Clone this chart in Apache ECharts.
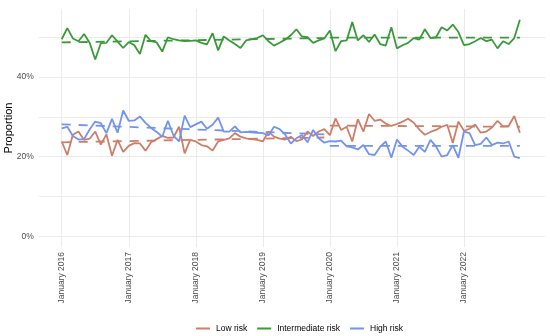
<!DOCTYPE html>
<html>
<head>
<meta charset="utf-8">
<script src="https://cdn.jsdelivr.net/npm/echarts@6/dist/echarts.min.js"></script>
<style>html,body{margin:0;padding:0;background:#fff;}#c{width:550px;height:336px;}</style>
</head>
<body>
<div id="c"></div>
<script>
// Monthly proportions (%), January 2016 .. November 2022 (index 0..82)
const lowRisk = [23.8,20.4,25.5,26.3,24.2,24.5,26.3,23.0,25.6,20.2,24.2,21.2,22.7,23.4,23.3,21.5,23.6,24.4,25.2,24.7,
  24.8,27.5,20.8,24.2,23.8,22.9,22.6,21.5,23.8,24.2,24.6,25.9,25.0,24.6,24.4,24.2,23.8,26.3,25.0,24.5,
  24.3,25.0,23.9,24.3,26.3,25.2,26.3,26.9,25.4,29.6,26.7,27.5,23.8,29.4,26.3,30.7,29.0,29.3,28.3,27.7,
  28.2,28.8,29.5,28.5,26.8,25.5,26.2,26.7,27.5,28.0,23.4,28.8,26.5,27.0,28.1,26.0,26.3,27.3,29.0,27.6,
  27.7,30.2,26.0];
const intermediateRisk = [49.5,52.3,49.7,49.0,50.8,48.6,44.4,48.5,48.6,50.5,48.9,47.3,48.8,48.0,45.8,50.6,49.0,48.7,46.4,50.0,
  49.5,49.2,49.0,49.1,49.2,48.6,48.2,51.0,46.7,50.2,49.2,48.3,47.3,49.2,49.5,49.8,50.5,49.0,47.9,48.6,
  49.4,50.5,52.0,50.2,50.0,48.6,49.2,49.7,51.7,46.5,49.0,49.2,53.8,49.2,50.5,48.8,50.7,48.3,47.9,52.5,
  47.2,48.0,48.6,49.8,49.4,52.0,49.8,50.0,52.5,51.7,53.2,51.3,48.0,48.3,49.0,49.8,49.0,49.4,47.2,49.0,
  48.3,49.8,54.4];
const highRisk = [27.1,27.5,25.2,24.3,24.4,26.8,28.8,28.4,25.9,29.5,26.0,31.6,29.0,29.1,30.1,28.5,27.2,26.2,25.0,29.0,
  25.3,23.8,30.3,27.4,28.1,28.8,27.0,28.0,29.8,26.3,26.3,27.6,26.1,26.2,26.1,26.0,25.9,25.3,27.5,26.9,
  25.5,23.3,24.6,25.4,23.6,26.7,24.6,23.5,23.9,23.8,24.0,22.6,22.3,21.8,22.9,20.6,20.4,22.5,23.8,19.7,
  24.3,22.5,21.5,20.4,22.5,21.2,24.2,22.5,20.0,20.4,22.9,19.7,26.3,25.9,22.9,23.2,24.8,22.9,23.5,23.3,
  23.8,20.0,19.6];

// Segmented trend lines (dashed): pre-2020 and post-2020, values at segment ends
const trendX = [0, 47, 48, 82];
const lowTrend = [23.6, 24.8, 27.8, 27.5];
const intermediateTrend = [48.7, 49.8, 49.9, 49.9];
const highTrend = [28.1, 25.6, 22.7, 22.7];

// Axis ticks
const xTickPos = [0, 12, 24, 36, 48, 60, 72];
const xTickLabels = ['January 2016','January 2017','January 2018','January 2019','January 2020','January 2021','January 2022'];
const yGridValues = [0, 10, 20, 30, 40, 50];
const yLabelValues = [0, 20, 40];

const names = ['Low risk', 'Intermediate risk', 'High risk'];
const colors = ['#cd7e68', '#3a9a3a', '#7393ee'];
const mainData = [lowRisk, intermediateRisk, highRisk];
const trendData = [lowTrend, intermediateTrend, highTrend];

const FONT = '"Liberation Sans", Arial, sans-serif';
const series = [];
mainData.forEach((arr, k) => {
  series.push({
    name: names[k], type: 'line', showSymbol: false, z: 3,
    data: arr.map((v, i) => [i, v]),
    lineStyle: { color: colors[k], width: 1.8 },
    itemStyle: { color: colors[k] }
  });
});
trendData.forEach((t, k) => {
  [[0, 1], [2, 3]].forEach(seg => {
    series.push({
      type: 'line', showSymbol: false, z: 2, silent: true,
      data: seg.map(j => [trendX[j], t[j]]),
      lineStyle: { color: colors[k], width: 1.8, type: [9, 8] }
    });
  });
});

const chart = echarts.init(document.getElementById('c'), null, { renderer: 'canvas' });
chart.setOption({
  animation: false,
  backgroundColor: '#ffffff',
  textStyle: { fontFamily: FONT },
  grid: { left: 38.8, right: 5, top: 9, bottom: 89, containLabel: false, outerBoundsMode: 'none' },
  xAxis: {
    type: 'value', min: -4.1, max: 86.5,
    axisLine: { show: false },
    axisTick: { show: false, customValues: xTickPos },
    splitLine: { show: true, lineStyle: { color: '#ebebeb', width: 1 } },
    axisLabel: {
      customValues: xTickPos, rotate: 90, margin: 5,
      color: '#4d4d4d', fontSize: 8.5, fontFamily: FONT,
      formatter: v => xTickLabels[xTickPos.indexOf(Math.round(v))] || ''
    }
  },
  yAxis: {
    type: 'value', min: -2.72, max: 57.1,
    name: 'Proportion', nameLocation: 'middle', nameGap: 24, nameRotate: 90,
    nameMoveOverlap: false,
    nameTextStyle: { color: '#000', fontSize: 11, fontFamily: FONT },
    axisLine: { show: false },
    axisTick: { show: false, customValues: yGridValues },
    splitLine: { show: true, lineStyle: { color: '#ebebeb', width: 1 } },
    axisLabel: {
      customValues: yLabelValues, margin: 5,
      color: '#4d4d4d', fontSize: 8.5, fontFamily: FONT,
      formatter: v => v + '%'
    }
  },
  legend: {
    data: names, left: 191, top: 319, icon: 'rect',
    itemWidth: 14, itemHeight: 2, itemGap: 10,
    textStyle: { color: '#000', fontSize: 8.5, fontFamily: FONT, padding: [0, 0, 0, 1] }
  },
  series: series
});
</script>
</body>
</html>
